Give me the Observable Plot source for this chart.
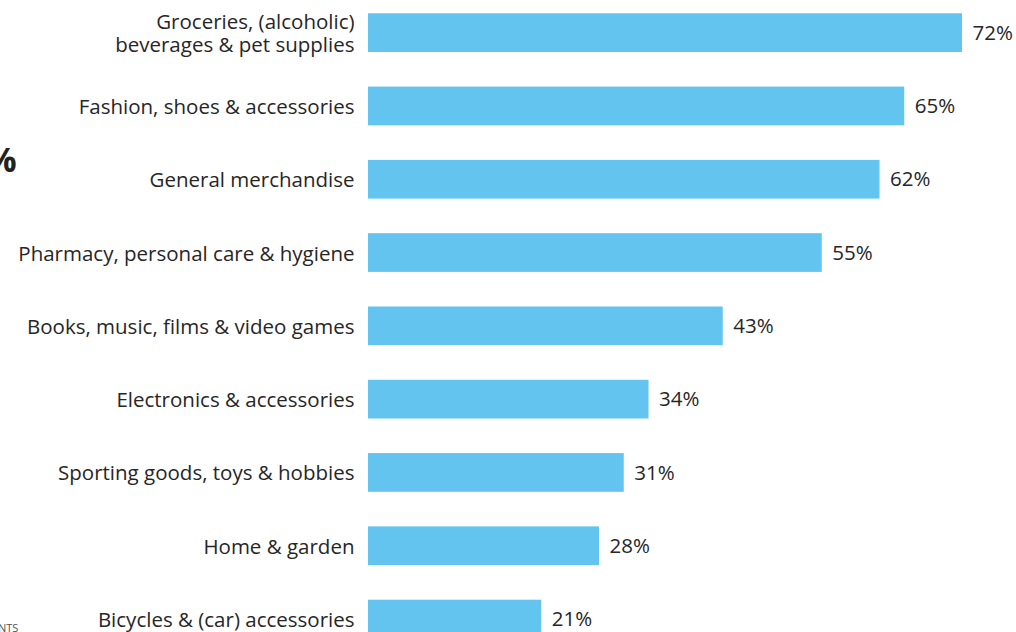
<!DOCTYPE html>
<html>
<head>
<meta charset="utf-8">
<script src="https://cdn.jsdelivr.net/npm/d3@7"></script>
<script src="https://cdn.jsdelivr.net/npm/@observablehq/plot@0.6"></script>
<style>
  html, body { margin: 0; padding: 0; background: #fff; overflow: hidden; }
  body { width: 1016px; height: 632px; position: relative; font-family: "Open Sans", sans-serif; }
  #chart { position: absolute; left: 0; top: 0; }
  .frag-title { position: absolute; left: -14px; top: 142px; font: bold 34px "Open Sans", sans-serif; color: #222; line-height: 1; }
  .frag-note { position: absolute; left: -2px; top: 622px; font: 11px "Open Sans", sans-serif; color: #555; line-height: 1; }
</style>
</head>
<body>
<div class="frag-title">%</div>
<div class="frag-note">NTS</div>
<div id="chart"></div>
<script>
const categories = [
  "Groceries, (alcoholic)\nbeverages & pet supplies",
  "Fashion, shoes & accessories",
  "General merchandise",
  "Pharmacy, personal care & hygiene",
  "Books, music, films & video games",
  "Electronics & accessories",
  "Sporting goods, toys & hobbies",
  "Home & garden",
  "Bicycles & (car) accessories"
];
const values = [72, 65, 62, 55, 43, 34, 31, 28, 21];
const valueLabels = ["72%", "65%", "62%", "55%", "43%", "34%", "31%", "28%", "21%"];

const data = categories.map((c, i) => ({category: c, value: values[i], label: valueLabels[i]}));

const chart = Plot.plot({
  width: 1016,
  height: 632,
  marginLeft: 368,
  marginRight: 54,
  style: {fontFamily: "'Open Sans', sans-serif", color: "#262626", background: "transparent"},
  x: {domain: [0, 72], axis: null},
  y: {domain: categories, range: [-4, 655.7], paddingInner: 0.472, paddingOuter: 0.236, round: false, label: null},
  marks: [
    Plot.barX(data, {x: "value", y: "category", fill: "#62c4ef"}),
    Plot.axisY({tickSize: 0, tickPadding: 14, fontSize: 20.5, label: null, lineHeight: 1.15, fill: "#262626"}),
    Plot.text(data, {x: "value", y: "category", text: "label", dx: 10, textAnchor: "start", fontSize: 20.5, fill: "#262626"})
  ]
});
document.getElementById("chart").appendChild(chart);
</script>
</body>
</html>
